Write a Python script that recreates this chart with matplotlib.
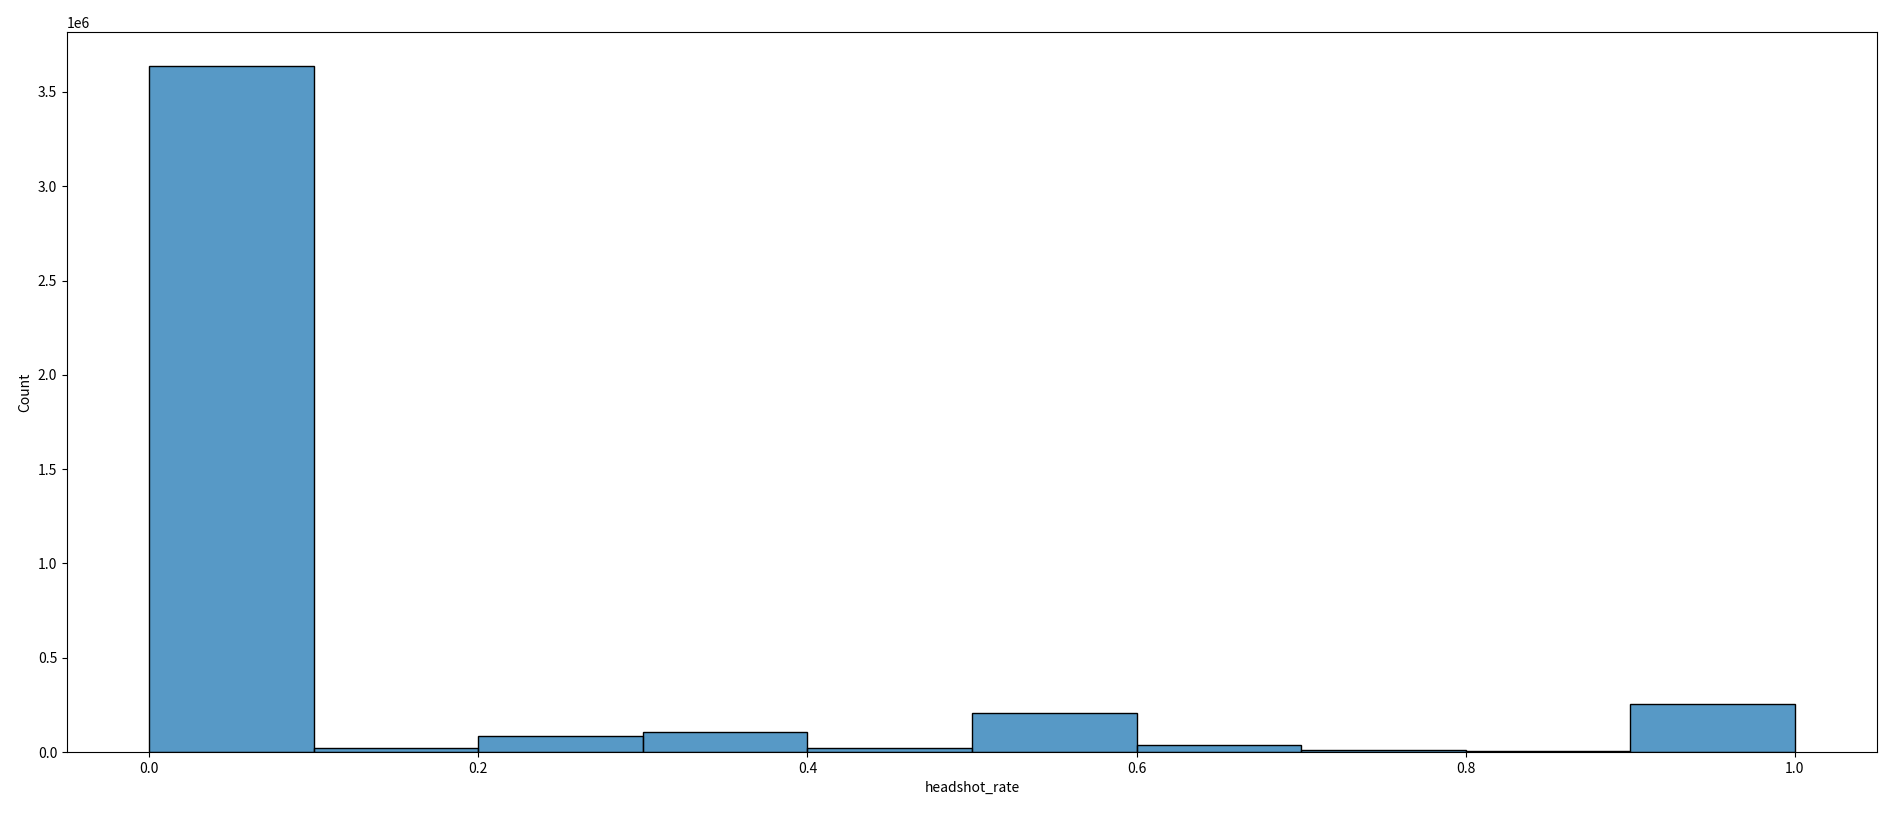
import matplotlib
matplotlib.use("Agg")
import matplotlib.pyplot as plt
import seaborn as sns

# histogram bins of headshot_rate and their counts
bin_edges = [0.0, 0.1, 0.2, 0.3, 0.4, 0.5, 0.6, 0.7, 0.8, 0.9, 1.0]
bin_centers = [0.05, 0.15, 0.25, 0.35, 0.45, 0.55, 0.65, 0.75, 0.85, 0.95]
counts = [3636000, 23000, 85000, 105000, 23000, 205000, 37000, 12000, 7000, 255000]

plt.rcParams['font.family'] = ['Noto Sans CJK SC', 'DejaVu Sans']
plt.rcParams['axes.unicode_minus'] = False

fig = plt.figure(figsize=(18.88, 8.13), dpi=100)
ax = fig.add_axes([67 / 1888, 1 - 752 / 813, (1877 - 67) / 1888, (752 - 32) / 813])

sns.histplot(x=bin_centers, weights=counts, bins=bin_edges, ax=ax)

ax.set_xlabel("headshot_rate", fontsize=10)
ax.set_ylabel("Count", fontsize=10)
ax.tick_params(labelsize=10)

fig.savefig("out.png", dpi=100)
